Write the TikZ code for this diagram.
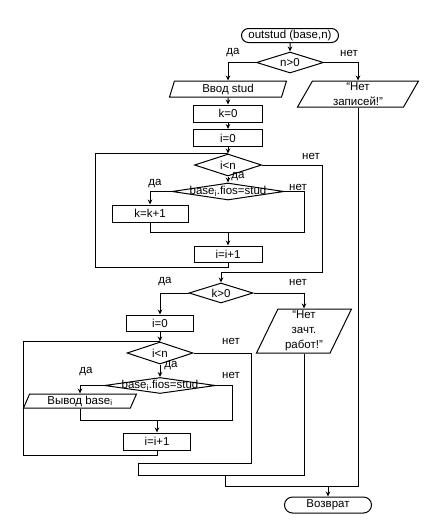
\documentclass[tikz,border=0pt]{standalone}
\usepackage{fontspec}
\setmainfont{Liberation Sans}
\usetikzlibrary{shapes.geometric,shapes.misc,arrows.meta}
\begin{document}
\begin{tikzpicture}[x=1pt, y=-1pt, >={Stealth[length=5pt,width=4.5pt]}, line width=1pt,
        font=\fontsize{11.5}{15}\selectfont]
        \tikzstyle{proc}=[draw, shape=rectangle, inner sep=0pt]
        \tikzstyle{dec}=[draw, shape=diamond, inner sep=0pt]
        \tikzstyle{io}=[draw, shape=trapezium, trapezium left angle=60, trapezium right angle=120,
                trapezium stretches body, inner sep=0pt, align=center]
        \tikzstyle{term}=[draw, shape=rounded rectangle, inner sep=0pt]
        \tikzstyle{lbl}=[inner sep=0pt]

        \useasboundingbox (0,0) rectangle (436,523);

        % first part
        \node[term, minimum width=97, minimum height=14](st) at (290,35.5){outstud (base,n)};
        \node[dec, minimum width=67, minimum height=21, label=center:{n>0}](c1) at (290,62.5){};
        \node[io, minimum width=117, minimum height=16, trapezium left angle=65, trapezium right angle=115](io1) at (228,89){Ввод stud};
        \node[io, minimum width=121, minimum height=26, trapezium left angle=57, trapezium right angle=123](io2) at (358,94){“Нет\\записей!”};
        \node[proc, minimum width=69, minimum height=17](k0) at (228,113.5){k=0};
        \node[proc, minimum width=69, minimum height=17](i0) at (228,138){i=0};
        \node[dec, minimum width=67, minimum height=22, label=center:{i<n}](c2) at (228,165){};
        \node[dec, minimum width=112, minimum height=17, label=center:{base\textsubscript{i}.fios=stud}](c3) at (228,191.5){};
        \node[proc, minimum width=76, minimum height=17](kk) at (150,213.5){k=k+1};
        \node[proc, minimum width=68, minimum height=16](ii1) at (228,254){i=i+1};

        % second part
        \node[dec, minimum width=64, minimum height=20, label=center:{k>0}](c4) at (221,293){};
        \node[proc, minimum width=67, minimum height=16](i02) at (160,323){i=0};
        \node[io, minimum width=95, minimum height=44, trapezium left angle=62, trapezium right angle=118](io3) at (304,331){“Нет\\зачт.\\работ!”};
        \node[dec, minimum width=66, minimum height=22, label=center:{i<n}](c5) at (160,353){};
        \node[dec, minimum width=111, minimum height=16, label=center:{base\textsubscript{i}.fios=stud}](c6) at (160,385.5){};
        \node[io, minimum width=113, minimum height=14](io4) at (80,401){Вывод base\textsubscript{i}};
        \node[proc, minimum width=67, minimum height=17](ii2) at (157,441.5){i=i+1};
        \node[term, minimum width=87, minimum height=16](fin) at (328,505){Возврат};

        % answers
        \node[lbl] at (233,53){да};
        \node[lbl] at (349,53){нет};
        \node[lbl] at (311,156){нет};
        \node[lbl] at (238,177){да};
        \node[lbl] at (155,184){да};
        \node[lbl] at (298,187){нет};
        \node[lbl] at (165,282){да};
        \node[lbl] at (298,282){нет};
        \node[lbl] at (231,341){нет};
        \node[lbl] at (171,366){да};
        \node[lbl] at (86,372){да};
        \node[lbl] at (231,375){нет};

        \coordinate (j1) at (228,232);
        \coordinate (lp1) at (95,267);
        \coordinate (ex1) at (322,272);
        \coordinate (j2) at (157,420);
        \coordinate (lp2) at (23,455);
        \coordinate (e2) at (251,463);
        \coordinate (e3) at (138,475);
        \coordinate (e4) at (225,475);
        \coordinate (j3) at (328,486);

        \draw[->] (st) -- (c1);
        \draw[->] (c1.west) -| (io1.north);
        \draw[->] (c1.east) -| (io2.north);
        \draw[->] (io1) -- (k0);
        \draw[->] (k0) -- (i0);
        \draw[->] (i0) -- (c2.north);
        \draw[->] (c2) -- (c3.north);
        \draw[->] (c3.west) -| (kk.north);
        \draw (c3.east) -- ++(20,0) |- (j1);
        \draw (kk.south) |- (j1);
        \draw[->] (j1) -- (ii1.north);
        \draw (ii1.south) |- (lp1) |- (c2.north);
        \draw[->] (c2.east) -| (ex1) -| (c4.north);

        \draw[->] (c4.west) -| (i02.north);
        \draw[->] (c4.east) -| (io3.north);
        \draw[->] (i02) -- (c5.north);
        \draw[->] (c5) -- (c6.north);
        \draw[->] (c6.west) -| (io4.north);
        \draw (c6.east) -- ++(16,0) |- (j2);
        \draw (io4.south) |- (j2);
        \draw[->] (j2) -- (ii2.north);
        \draw (ii2.south) |- (lp2) |- (c5.north);
        \draw (c5.east) -| (e2) -| (e3) -| (io3.south);
        \draw (e4) |- (j3);
        \draw (io2.south) |- (j3);
        \draw[->] (j3) -- (fin.north);
\end{tikzpicture}
\end{document}
